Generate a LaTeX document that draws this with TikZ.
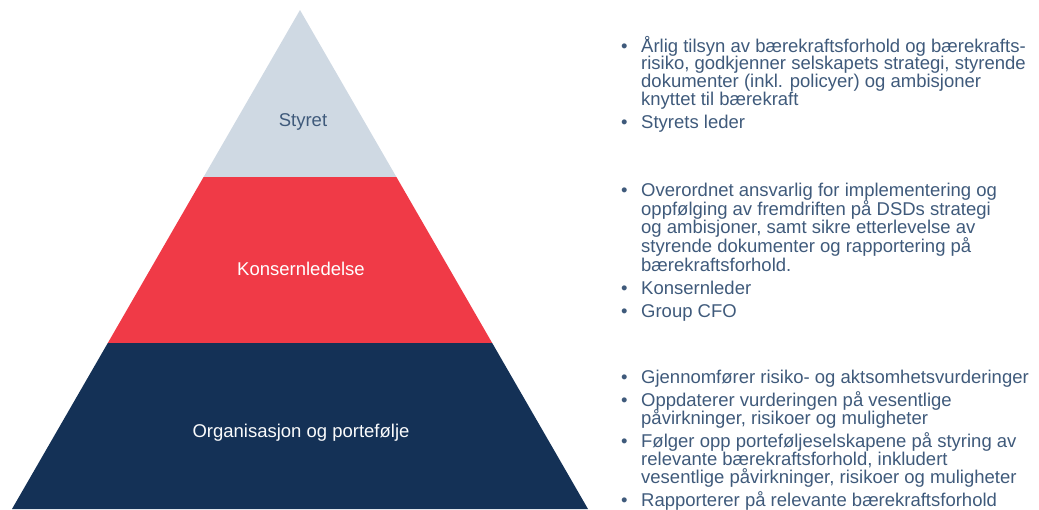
\documentclass[tikz,border=0pt]{standalone}
\usepackage{fontspec}
\setmainfont{Liberation Sans}
\definecolor{styregraa}{HTML}{CFD9E3}
\definecolor{konsernrod}{HTML}{F03A47}
\definecolor{orgbla}{HTML}{143156}
\definecolor{tekstbla}{HTML}{3F5A7B}
\tikzset{
  niva/.style={font=\fontsize{18.5}{18}\selectfont, inner sep=0pt},
  punkter/.style={anchor=base west, inner sep=0pt, text=tekstbla},
}
% ett punkt med hengende innrykk
\newcommand{\pkt}[1]{\par\noindent\hangindent=20pt\hangafter=1\relax\makebox[20pt][l]{\textbullet}#1\par}
% liste: linjeavstand, avstand mellom punkt, punkt
\newcommand{\liste}[3]{\parbox[t]{440pt}{\fontsize{18.5}{#1}\selectfont\lineskiplimit=-100pt\relax\setlength{\parskip}{#2}#3}}

\begin{document}
\begin{tikzpicture}[x=1pt,y=-1pt]
  \useasboundingbox (0,0) rectangle (1039,509);
  % pyramiden
  \fill[styregraa] (300,10) -- (396.4,177) -- (203.6,177) -- cycle;
  \fill[konsernrod] (203.6,177) -- (396.4,177) -- (492.2,343) -- (107.8,343) -- cycle;
  \fill[orgbla] (107.8,343) -- (492.2,343) -- (588,509) -- (12,509) -- cycle;
  \node[niva, text=tekstbla] (styret) at (303,121.5) {Styret};
  \node[niva, text=white] (konsern) at (301,268.5) {Konsernledelse};
  \node[niva, text=white!90!styregraa] (org) at (301,432.5) {Organisasjon og portefølje};
  % punktlister
  \node[punkter] (styretpkt) at (621,52) {\liste{17.7pt}{6pt}{%
    \pkt{Årlig tilsyn av bærekraftsforhold og bærekrafts-\\
         risiko, godkjenner selskapets strategi, styrende\\
         dokumenter (inkl. policyer) og ambisjoner\\
         knyttet til bærekraft}
    \pkt{Styrets leder}}};
  \node[punkter] (konsernpkt) at (621,196.5) {\liste{18.7pt}{4.5pt}{%
    \pkt{Overordnet ansvarlig for implementering og\\
         oppfølging av fremdriften på DSDs strategi\\
         og ambisjoner, samt sikre etterlevelse av\\
         styrende dokumenter og rapportering på\\
         bærekraftsforhold.}
    \pkt{Konsernleder}
    \pkt{Group CFO}}};
  \node[punkter] (orgpkt) at (621,383.5) {\liste{18pt}{5pt}{%
    \pkt{Gjennomfører risiko- og aktsomhetsvurderinger}
    \pkt{Oppdaterer vurderingen på vesentlige\\
         påvirkninger, risikoer og muligheter}
    \pkt{Følger opp porteføljeselskapene på styring av\\
         relevante bærekraftsforhold, inkludert\\
         vesentlige påvirkninger, risikoer og muligheter}
    \pkt{Rapporterer på relevante bærekraftsforhold}}};
\end{tikzpicture}
\end{document}
